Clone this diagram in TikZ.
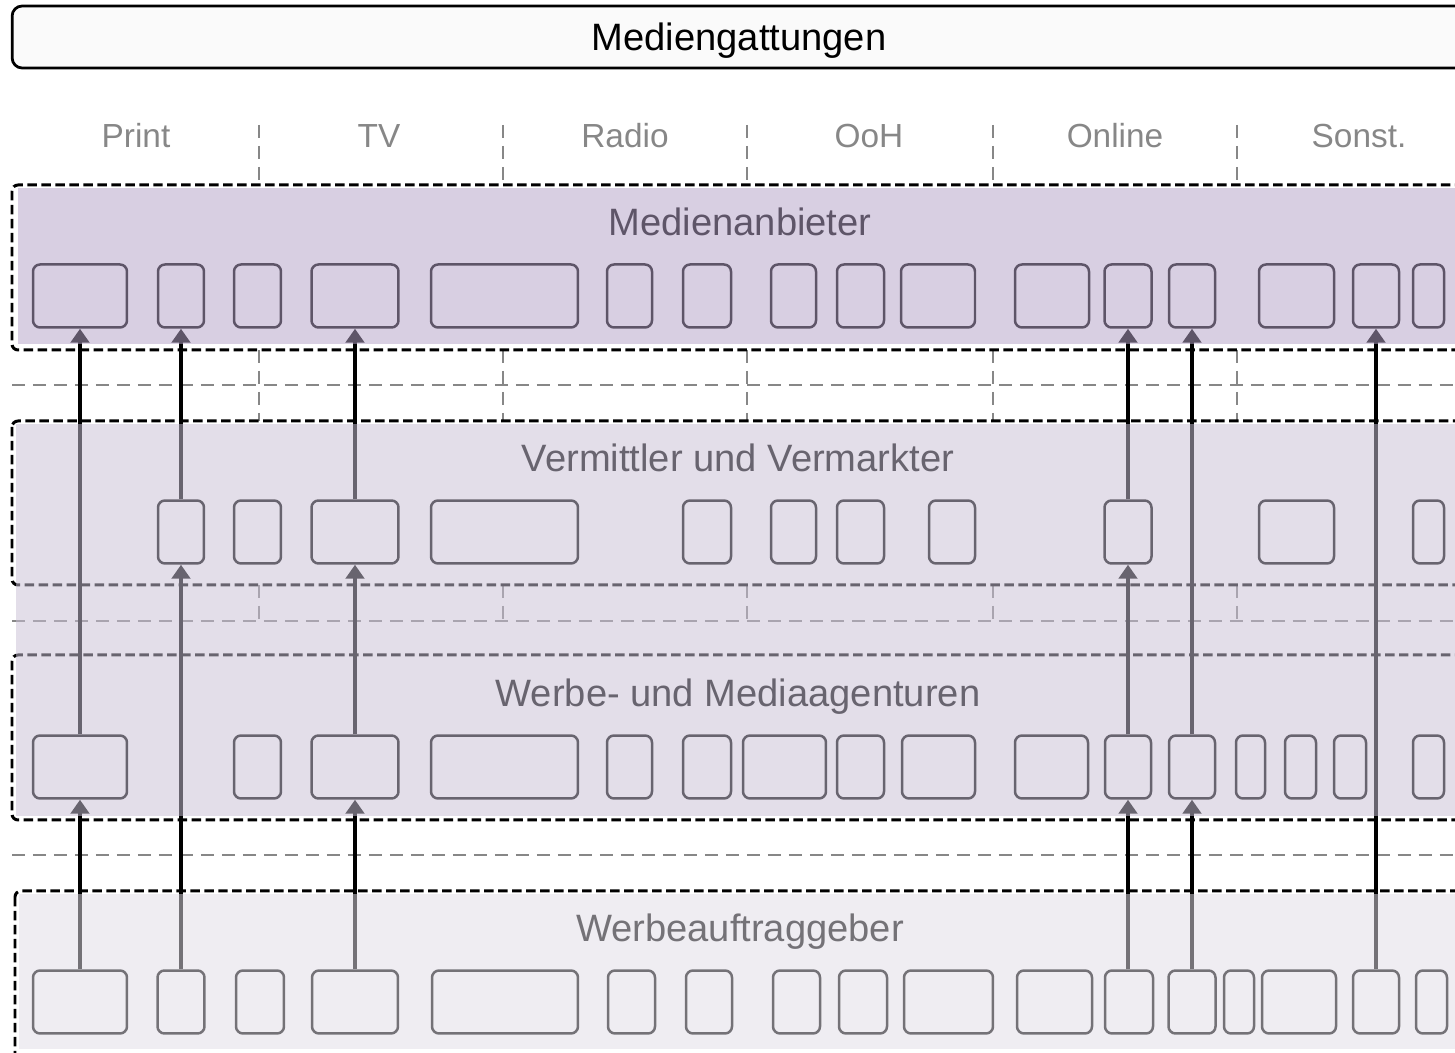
\documentclass[tikz,border=0pt]{standalone}
\usepackage{fontspec}
\setmainfont{Liberation Sans}
\usepackage{xcolor}
\usetikzlibrary{arrows.meta}

\definecolor{anbieter}{HTML}{B5A3C8}
\definecolor{agentur}{HTML}{C9C0D5}
\definecolor{kunde}{HTML}{E0DCE6}

\begin{document}
\begin{tikzpicture}[
    x=0.02cm, y=-0.02cm,
    box/.style={rectangle, draw=black, line width=0.05cm, rounded corners=0.14cm, minimum height=1.26cm, inner sep=0pt},
    layerbox/.style={draw=black, line width=0.06cm, dash pattern=on 0.19cm off 0.09cm, rounded corners=0.12cm},
    sep/.style={draw=black!47, line width=0.045cm, dash pattern=on 0.26cm off 0.16cm},
    tint/.style={fill=#1, fill opacity=0.52, draw=none},
    lbl/.style={font=\fontsize{21.7}{26}\selectfont, text depth=0pt},
    col/.style={font=\fontsize{19}{23}\selectfont, text=black!47},
    arr/.style={->, >={Triangle[width=0.37cm,length=0.28cm]}, line width=0.07cm}
]
\clip (0,0) rectangle (1455,1053);

% Title
\node[draw=black, line width=0.055cm, rounded corners=0.2cm, fill=black!2, minimum width=29.08cm, minimum height=1.24cm, lbl] (titel) at (739,37) {Mediengattungen};

% Columns
\node[col] (print) at (136,136) {Print};
\node[col] (tv) at (379,136) {TV};
\node[col] (radio) at (625,136) {Radio};
\node[col] (ooh) at (869,136) {OoH};
\node[col] (online) at (1115,136) {Online};
\node[col] (sonst) at (1359,136) {Sonst.};

% Separators
\draw[sep] (259,125) -- (259,185) (503,125) -- (503,185) (747,125) -- (747,185) (993,125) -- (993,185) (1237,125) -- (1237,185);
\draw[sep] (259,350) -- (259,421) (503,350) -- (503,421) (747,350) -- (747,421) (993,350) -- (993,421) (1237,350) -- (1237,421);
\draw[sep] (259,585) -- (259,621) (503,585) -- (503,621) (747,585) -- (747,621) (993,585) -- (993,621) (1237,585) -- (1237,621);
\draw[sep] (12,385) -- (1480,385);
\draw[sep] (12,621) -- (1480,621);
\draw[sep] (12,855) -- (1480,855);

% Layers
\draw[layerbox] (12,185) rectangle (1490,350);
\draw[layerbox] (12,421) rectangle (1490,585);
\draw[layerbox] (12,655) rectangle (1490,820);
\draw[layerbox] (15,891) rectangle (1490,1090);

\node[lbl] (l1) at (740,222) {Medienanbieter};
\node[lbl] (l2) at (738,458) {Vermittler und Vermarkter};
\node[lbl] (l3) at (738,693) {Werbe- und Mediaagenturen};
\node[lbl] (l4) at (740,928) {Werbeauftraggeber};

% Medienanbieter
\node[box, minimum width=1.88cm] (m1) at (80,296) {};
\node[box, minimum width=0.92cm] (m2) at (181,296) {};
\node[box, minimum width=0.94cm] (m3) at (257.5,296) {};
\node[box, minimum width=1.74cm] (m4) at (355,296) {};
\node[box, minimum width=2.94cm] (m5) at (504.5,296) {};
\node[box, minimum width=0.90cm] (m6) at (629.5,296) {};
\node[box, minimum width=0.96cm] (m7) at (707,296) {};
\node[box, minimum width=0.90cm] (m8) at (793.5,296) {};
\node[box, minimum width=0.94cm] (m9) at (860.5,296) {};
\node[box, minimum width=1.48cm] (m10) at (938,296) {};
\node[box, minimum width=1.48cm] (m11) at (1052,296) {};
\node[box, minimum width=0.94cm] (m12) at (1128,296) {};
\node[box, minimum width=0.92cm] (m13) at (1192,296) {};
\node[box, minimum width=1.50cm] (m14) at (1296.5,296) {};
\node[box, minimum width=0.92cm] (m15) at (1376,296) {};
\node[box, minimum width=0.62cm] (m16) at (1428.5,296) {};

% Vermittler und Vermarkter
\node[box, minimum width=0.92cm] (v1) at (181,532) {};
\node[box, minimum width=0.94cm] (v2) at (257.5,532) {};
\node[box, minimum width=1.74cm] (v3) at (355,532) {};
\node[box, minimum width=2.94cm] (v4) at (504.5,532) {};
\node[box, minimum width=0.96cm] (v5) at (707,532) {};
\node[box, minimum width=0.90cm] (v6) at (793.5,532) {};
\node[box, minimum width=0.94cm] (v7) at (860.5,532) {};
\node[box, minimum width=0.92cm] (v8) at (952,532) {};
\node[box, minimum width=0.94cm] (v9) at (1128,532) {};
\node[box, minimum width=1.50cm] (v10) at (1296.5,532) {};
\node[box, minimum width=0.62cm] (v11) at (1428.5,532) {};

% Werbe- und Mediaagenturen
\node[box, minimum width=1.88cm] (w1) at (80,767) {};
\node[box, minimum width=0.94cm] (w2) at (257.5,767) {};
\node[box, minimum width=1.74cm] (w3) at (355,767) {};
\node[box, minimum width=2.94cm] (w4) at (504.5,767) {};
\node[box, minimum width=0.90cm] (w5) at (629.5,767) {};
\node[box, minimum width=0.96cm] (w6) at (707,767) {};
\node[box, minimum width=1.66cm] (w7) at (784.5,767) {};
\node[box, minimum width=0.94cm] (w8) at (860.5,767) {};
\node[box, minimum width=1.46cm] (w9) at (938.5,767) {};
\node[box, minimum width=1.46cm] (w10) at (1051.5,767) {};
\node[box, minimum width=0.92cm] (w11) at (1128,767) {};
\node[box, minimum width=0.92cm] (w12) at (1192,767) {};
\node[box, minimum width=0.58cm] (w13) at (1250.5,767) {};
\node[box, minimum width=0.62cm] (w14) at (1300.5,767) {};
\node[box, minimum width=0.64cm] (w15) at (1350,767) {};
\node[box, minimum width=0.62cm] (w16) at (1428.5,767) {};

% Werbeauftraggeber
\node[box, minimum width=1.88cm] (g1) at (80,1002) {};
\node[box, minimum width=0.94cm] (g2) at (181,1002) {};
\node[box, minimum width=0.96cm] (g3) at (260,1002) {};
\node[box, minimum width=1.72cm] (g4) at (355,1002) {};
\node[box, minimum width=2.92cm] (g5) at (505,1002) {};
\node[box, minimum width=0.94cm] (g6) at (631.5,1002) {};
\node[box, minimum width=0.92cm] (g7) at (709,1002) {};
\node[box, minimum width=0.94cm] (g8) at (796.5,1002) {};
\node[box, minimum width=0.96cm] (g9) at (863,1002) {};
\node[box, minimum width=1.78cm] (g10) at (948.5,1002) {};
\node[box, minimum width=1.50cm] (g11) at (1054.5,1002) {};
\node[box, minimum width=0.96cm] (g12) at (1129,1002) {};
\node[box, minimum width=0.94cm] (g13) at (1192,1002) {};
\node[box, minimum width=0.60cm] (g14) at (1239,1002) {};
\node[box, minimum width=1.48cm] (g15) at (1299,1002) {};
\node[box, minimum width=0.92cm] (g16) at (1376,1002) {};
\node[box, minimum width=0.62cm] (g17) at (1431.5,1002) {};

% Arrows
\draw[arr] (g1) -- (w1);
\draw[arr] (w1) -- (m1);
\draw[arr] (g2) -- (v1);
\draw[arr] (v1) -- (m2);
\draw[arr] (g4) -- (w3);
\draw[arr] (w3) -- (v3);
\draw[arr] (v3) -- (m4);
\draw[arr] (g12.north -| w11) -- (w11);
\draw[arr] (w11) -- (v9);
\draw[arr] (v9) -- (m12);
\draw[arr] (g13) -- (w12);
\draw[arr] (w12) -- (m13);
\draw[arr] (g16) -- (m15);

% Tints
\fill[tint=anbieter] (18,188) rectangle (1490,344);
\fill[tint=agentur] (16,424) rectangle (1490,816);
\fill[tint=kunde] (19,894) rectangle (1490,1049);
\end{tikzpicture}
\end{document}
